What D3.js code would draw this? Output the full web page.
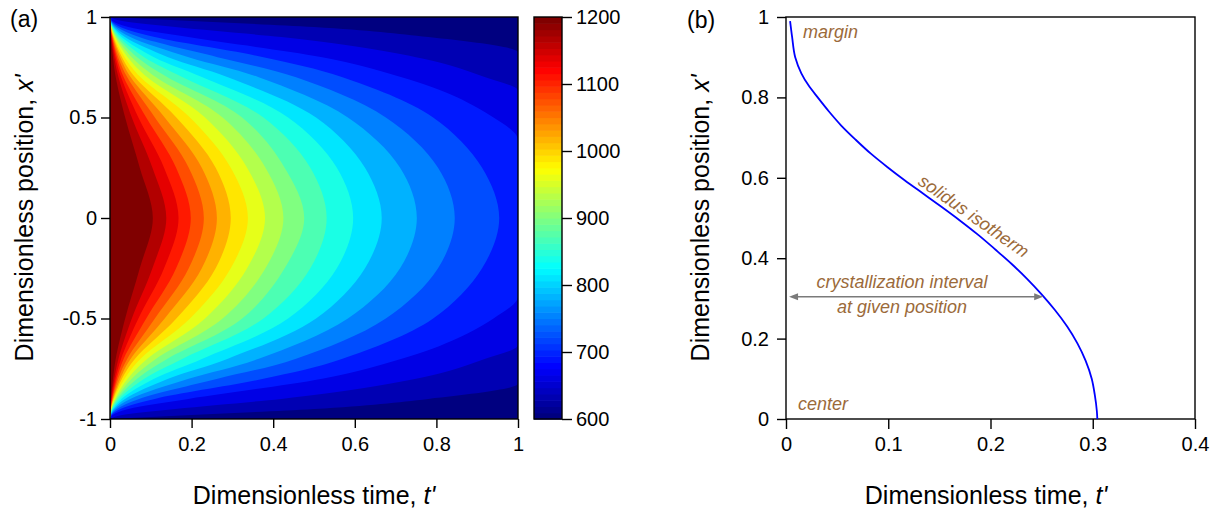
<!DOCTYPE html>
<html>
<head>
<meta charset="utf-8">
<script src="https://cdn.jsdelivr.net/npm/d3@7"></script>
<style>
  html, body { margin: 0; padding: 0; background: #fff; }
  svg { display: block; font-family: "Liberation Sans", Arial, Helvetica, sans-serif; }
</style>
</head>
<body>
<svg id="fig" width="1216" height="512"></svg>
<script>
// ---- (a) temperature field: filled-contour bands ----
// band edges (°C); 21 bands between 600 and 1200
const bandEdges = [600, 628.6, 657.1, 685.7, 714.3, 742.9, 771.4, 800, 828.6, 857.1,
  885.7, 914.3, 942.9, 971.4, 1000, 1028.6, 1057.1, 1085.7, 1114.3, 1142.9, 1171.4, 1200];

// positions x' (upper half; the field is symmetric about x' = 0) at which
// the time t' of each contour crossing (levels 1..20) is listed
const rowPositions = [0.98, 0.95, 0.9, 0.8, 0.7, 0.5, 0.25, 0];
const crossAt098 = [0.2, 0.03, 0.0064, 0.0037, 0.0024, 0.0018, 0.0015, 0.0012, 0.0009, 0.0008,
  0.0006, 0.0006, 0.0005, 0.0005, 0.0003, 0.0003, 0.0002, 0.0002, 0.0002, 0.0001];
const crossAt095 = [0.5, 0.16, 0.0448, 0.0254, 0.017, 0.0122, 0.0089, 0.0070, 0.0055, 0.0045,
  0.0036, 0.0030, 0.0025, 0.0022, 0.0018, 0.0014, 0.0012, 0.0010, 0.0008, 0.0005];
const crossAt090 = [0.78, 0.42, 0.192, 0.1097, 0.0713, 0.0497, 0.0367, 0.0281, 0.0224, 0.0178,
  0.0148, 0.0123, 0.0102, 0.0085, 0.0072, 0.0061, 0.0050, 0.0041, 0.0031, 0.0023];
const crossAt080 = [null, 0.75, 0.520, 0.376, 0.2635, 0.1926, 0.1425, 0.1079, 0.0839, 0.0664,
  0.0532, 0.0434, 0.0359, 0.0294, 0.0249, 0.0201, 0.0166, 0.0134, 0.0104, 0.0073];
const crossAt070 = [null, 0.92, 0.715, 0.570, 0.456, 0.3645, 0.289, 0.2267, 0.1783, 0.1409,
  0.1131, 0.0915, 0.0749, 0.0614, 0.0508, 0.0424, 0.0336, 0.0273, 0.0208, 0.0141];
const crossAt050 = [null, null, 0.940, 0.792, 0.676, 0.583, 0.505, 0.4365, 0.376, 0.324,
  0.276, 0.233, 0.196, 0.1626, 0.134, 0.110, 0.0888, 0.0696, 0.0535, 0.0372];
const crossAt025 = [null, null, null, 0.912, 0.804, 0.711, 0.625, 0.556, 0.491, 0.428,
  0.381, 0.336, 0.296, 0.259, 0.225, 0.193, 0.162, 0.1325, 0.104, 0.073];
const crossAt000 = [null, null, null, 0.954, 0.845, 0.752, 0.666, 0.596, 0.531, 0.476,
  0.425, 0.380, 0.338, 0.296, 0.262, 0.230, 0.198, 0.168, 0.138, 0.105];
// x' where the lowest contours leave the plot at t' = 1
const crossAtEnd = [0.824, 0.633, 0.389, null, null, null, null, null, null, null,
  null, null, null, null, null, null, null, null, null, null];

const timeTicksA = [0, 0.2, 0.4, 0.6, 0.8, 1];
const posTicksA = [-1, -0.5, 0, 0.5, 1];
const tempTicks = [600, 700, 800, 900, 1000, 1100, 1200];

// ---- (b) solidus isotherm ----
const solidusT = [0.004, 0.006, 0.009, 0.015, 0.022, 0.031, 0.042, 0.054, 0.068, 0.083,
  0.099, 0.116, 0.134, 0.152, 0.170, 0.188, 0.205, 0.221, 0.236, 0.250,
  0.263, 0.275, 0.285, 0.293, 0.299, 0.302, 0.304, 0.3045];
const solidusX = [0.99, 0.95, 0.90, 0.86, 0.83, 0.80, 0.765, 0.73, 0.695, 0.66,
  0.627, 0.594, 0.561, 0.528, 0.494, 0.458, 0.421, 0.385, 0.348, 0.310,
  0.271, 0.230, 0.188, 0.145, 0.100, 0.060, 0.020, 0];
const intervalPos = 0.304;            // x' of the crystallization-interval arrow
const intervalSpan = [0.003, 0.2515]; // t' range of the arrow
const timeTicksB = [0, 0.1, 0.2, 0.3, 0.4];
const posTicksB = [0, 0.2, 0.4, 0.6, 0.8, 1];

// ---------------------------------------------------------------
const svg = d3.select("#fig");
const FONT_TICK = 20, FONT_LABEL = 25;
const brown = "#9b6a3a";

function jet(v) {
  const c = x => Math.max(0, Math.min(1, x));
  return d3.rgb(255 * c(1.5 - Math.abs(4 * v - 3)),
                255 * c(1.5 - Math.abs(4 * v - 2)),
                255 * c(1.5 - Math.abs(4 * v - 1))).formatHex();
}

function styleAxis(g) {
  g.attr("font-size", FONT_TICK).attr("font-family", null);
  g.select(".domain").remove();
  g.selectAll(".tick line").attr("stroke", "#000").attr("stroke-width", 1.4);
  g.selectAll(".tick text").attr("fill", "#000");
}

// ===== panel (a) =====
const A = { left: 110, right: 518, top: 17, bottom: 419 };
const tA = d3.scaleLinear([0, 1], [A.left, A.right]);
const xA = d3.scaleLinear([-1, 1], [A.bottom, A.top]);
const bandColor = d3.scaleSequential(jet).domain([bandEdges[0], bandEdges[20]]);

svg.append("clipPath").attr("id", "clipA")
  .append("rect").attr("x", A.left).attr("y", A.top)
  .attr("width", A.right - A.left).attr("height", A.bottom - A.top);

const field = svg.append("g").attr("clip-path", "url(#clipA)");
field.append("rect").attr("x", A.left).attr("y", A.top)
  .attr("width", A.right - A.left).attr("height", A.bottom - A.top)
  .attr("fill", bandColor(bandEdges[0]));

const rows = [crossAt098, crossAt095, crossAt090, crossAt080, crossAt070, crossAt050, crossAt025, crossAt000];
// closed contours use a smooth spline; those leaving the plot at t' = 1 keep a monotone fit
const smoothLine = d3.line().x(d => tA(d[0])).y(d => xA(d[1])).curve(d3.curveCatmullRom.alpha(0.5));
const openLine = d3.line().x(d => tA(d[0])).y(d => xA(d[1])).curve(d3.curveMonotoneY);

// each contour encloses the region hotter than its level (t' below the crossing)
const contours = d3.range(20).map(j => {
  const top = [[0, 1]];
  rows.forEach((r, i) => { if (r[j] != null) top.push([r[j], rowPositions[i]]); });
  if (crossAtEnd[j] != null) top.push([1, crossAtEnd[j]]);
  top.sort((a, b) => b[1] - a[1]);
  const bottom = top.filter(p => p[1] > 0).reverse().map(([t, x]) => [t, -x]);
  return { level: j + 1, open: crossAtEnd[j] != null, pts: top.concat(bottom) };
});

field.selectAll("path.band").data(contours).join("path")
  .attr("class", "band")
  .attr("d", d => (d.open ? openLine : smoothLine)(d.pts) + "Z")
  .attr("fill", d => bandColor(bandEdges[d.level]));

svg.append("rect").attr("x", A.left).attr("y", A.top)
  .attr("width", A.right - A.left).attr("height", A.bottom - A.top)
  .attr("fill", "none").attr("stroke", "#000").attr("stroke-width", 1.4);

svg.append("g").attr("transform", `translate(${A.left},0)`)
  .call(d3.axisLeft(xA).tickValues(posTicksA).tickFormat(String).tickSize(9).tickPadding(4))
  .call(styleAxis);
svg.append("g").attr("transform", `translate(0,${A.bottom})`)
  .call(d3.axisBottom(tA).tickValues(timeTicksA).tickFormat(String).tickSize(9).tickPadding(9))
  .call(styleAxis);

// colour bar
const CB = { left: 534, right: 562 };
const cb = d3.scaleLinear([600, 1200], [A.bottom, A.top]);
const cbColor = d3.scaleSequential(jet).domain([0, 63]);
const steps = d3.range(64);
const stepH = (A.bottom - A.top) / 64;
svg.append("g").selectAll("rect").data(steps).join("rect")
  .attr("x", CB.left).attr("width", CB.right - CB.left)
  .attr("y", d => A.bottom - (d + 1) * stepH).attr("height", stepH + 0.6)
  .attr("fill", d => cbColor(d));
svg.append("rect").attr("x", CB.left).attr("y", A.top)
  .attr("width", CB.right - CB.left).attr("height", A.bottom - A.top)
  .attr("fill", "none").attr("stroke", "#000").attr("stroke-width", 1.4);
svg.append("g").attr("transform", `translate(${CB.right},0)`)
  .call(d3.axisRight(cb).tickValues(tempTicks).tickFormat(String).tickSize(10).tickPadding(4))
  .call(styleAxis);

// titles
svg.append("text").attr("x", 10).attr("y", 27).attr("font-size", 23).text("(a)");
const xlabA = svg.append("text").attr("x", (A.left + A.right) / 2).attr("y", 504)
  .attr("text-anchor", "middle").attr("font-size", FONT_LABEL).text("Dimensionless time, ");
xlabA.append("tspan").attr("font-style", "italic").text("t'");
const ylabA = svg.append("text").attr("transform", `translate(33,${(A.top + A.bottom) / 2}) rotate(-90)`)
  .attr("text-anchor", "middle").attr("font-size", FONT_LABEL).text("Dimensionless position, ");
ylabA.append("tspan").attr("font-style", "italic").text("x'");

// ===== panel (b) =====
const B = { left: 786, right: 1195, top: 17, bottom: 419 };
const tB = d3.scaleLinear([0, 0.4], [B.left, B.right]);
const xB = d3.scaleLinear([0, 1], [B.bottom, B.top]);

svg.append("rect").attr("x", B.left).attr("y", B.top)
  .attr("width", B.right - B.left).attr("height", B.bottom - B.top)
  .attr("fill", "none").attr("stroke", "#000").attr("stroke-width", 1.4);
svg.append("g").attr("transform", `translate(${B.left},0)`)
  .call(d3.axisLeft(xB).tickValues(posTicksB).tickFormat(String).tickSize(9).tickPadding(8))
  .call(styleAxis);
svg.append("g").attr("transform", `translate(0,${B.bottom})`)
  .call(d3.axisBottom(tB).tickValues(timeTicksB).tickFormat(String).tickSize(10).tickPadding(8))
  .call(styleAxis);

const solidus = solidusT.map((t, i) => [t, solidusX[i]]);
svg.append("path").datum(solidus)
  .attr("d", d3.line().x(d => tB(d[0])).y(d => xB(d[1])).curve(d3.curveMonotoneY))
  .attr("fill", "none").attr("stroke", "#0000ff").attr("stroke-width", 1.8);

// crystallization-interval arrow
const ay = xB(intervalPos), ax0 = tB(intervalSpan[0]), ax1 = tB(intervalSpan[1]);
const arrowCol = "#7a7a7a";
svg.append("line").attr("x1", ax0 + 4).attr("x2", ax1 - 4).attr("y1", ay).attr("y2", ay)
  .attr("stroke", arrowCol).attr("stroke-width", 1.5);
svg.append("path").attr("d", `M${ax0},${ay}l9,-3.5v7Z`).attr("fill", arrowCol);
svg.append("path").attr("d", `M${ax1},${ay}l-9,-3.5v7Z`).attr("fill", arrowCol);

const note = (x, y, txt, anchor = "start") => svg.append("text")
  .attr("x", x).attr("y", y).attr("text-anchor", anchor)
  .attr("font-size", 18).attr("font-style", "italic").attr("fill", brown).text(txt);
note(803, 38, "margin");
note(798, 410, "center");
note(902, 288, "crystallization interval", "middle");
note(902, 313, "at given position", "middle");
svg.append("text").attr("transform", "translate(974,216) rotate(35)")
  .attr("text-anchor", "middle").attr("dy", "0.35em")
  .attr("font-size", 18).attr("font-style", "italic").attr("fill", brown)
  .text("solidus isotherm");

svg.append("text").attr("x", 687).attr("y", 28).attr("font-size", 23).text("(b)");
const xlabB = svg.append("text").attr("x", 986).attr("y", 504)
  .attr("text-anchor", "middle").attr("font-size", FONT_LABEL).text("Dimensionless time, ");
xlabB.append("tspan").attr("font-style", "italic").text("t'");
const ylabB = svg.append("text").attr("transform", `translate(709,${(B.top + B.bottom) / 2}) rotate(-90)`)
  .attr("text-anchor", "middle").attr("font-size", FONT_LABEL).text("Dimensionless position, ");
ylabB.append("tspan").attr("font-style", "italic").text("x'");
</script>
</body>
</html>
